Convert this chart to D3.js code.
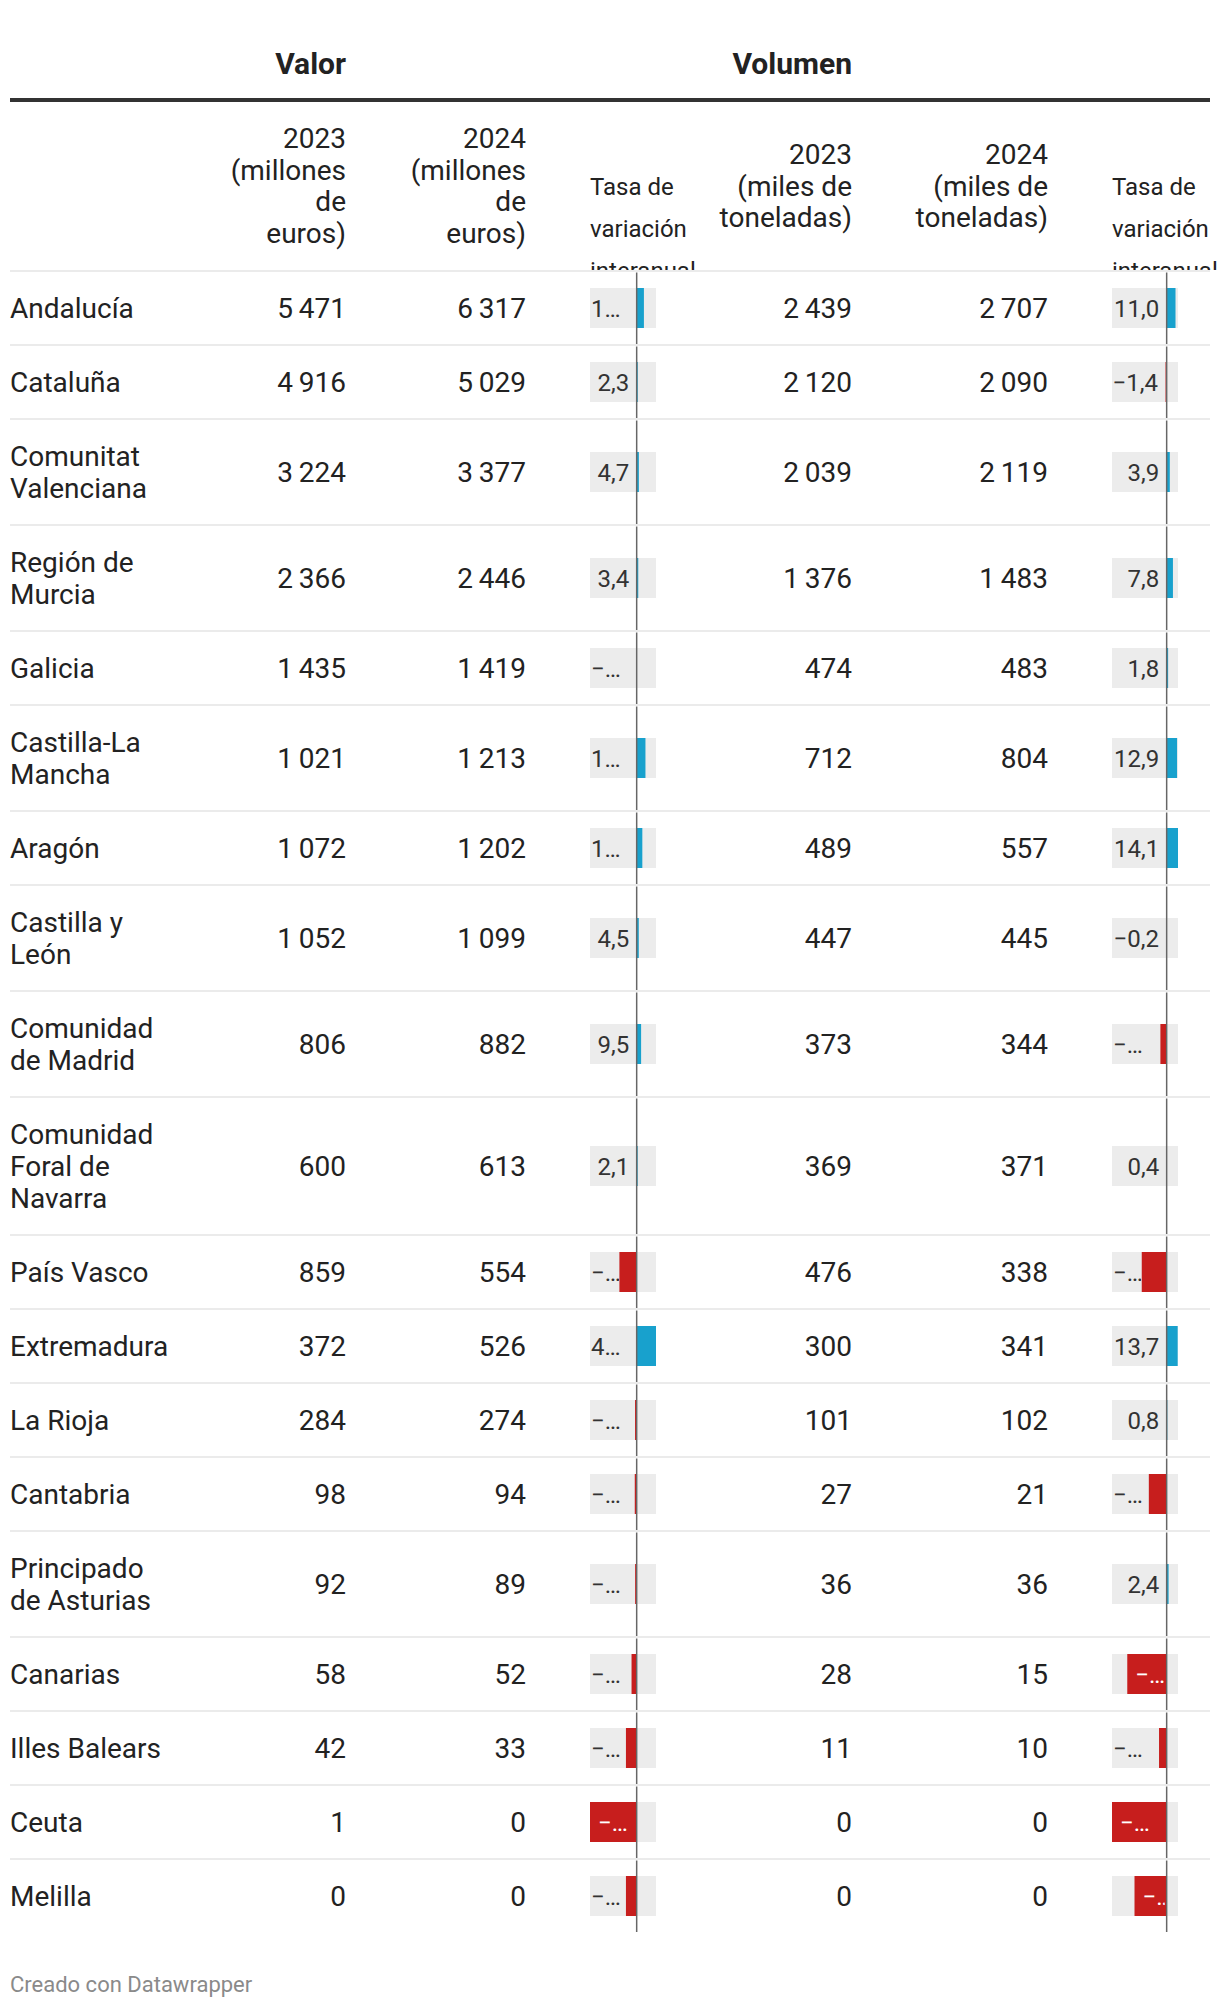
<!DOCTYPE html>
<html>
<head>
<meta charset="utf-8">
<script src="https://cdn.jsdelivr.net/npm/d3@7"></script>
<style>
  body { margin: 0; background: #fff; }
  svg text { font-family: Roboto, "Noto Sans", sans-serif; }
</style>
</head>
<body>
<script>
// ---------- DATA ----------
const regions = ["Andalucía", "Cataluña", "Comunitat Valenciana", "Región de Murcia", "Galicia",
  "Castilla-La Mancha", "Aragón", "Castilla y León", "Comunidad de Madrid",
  "Comunidad Foral de Navarra", "País Vasco", "Extremadura", "La Rioja", "Cantabria",
  "Principado de Asturias", "Canarias", "Illes Balears", "Ceuta", "Melilla"];
const valor2023 = [5471, 4916, 3224, 2366, 1435, 1021, 1072, 1052, 806, 600, 859, 372, 284, 98, 92, 58, 42, 1, 0];
const valor2024 = [6317, 5029, 3377, 2446, 1419, 1213, 1202, 1099, 882, 613, 554, 526, 274, 94, 89, 52, 33, 0, 0];
const valorTasa = [15.5, 2.3, 4.7, 3.4, -1.1, 18.8, 12.1, 4.5, 9.5, 2.1, -37, 41.4, -3.5, -4.1, -3.3, -11, -23, -100, -23];
const volumen2023 = [2439, 2120, 2039, 1376, 474, 712, 489, 447, 373, 369, 476, 300, 101, 27, 36, 28, 11, 0, 0];
const volumen2024 = [2707, 2090, 2119, 1483, 483, 804, 557, 445, 344, 371, 338, 341, 102, 21, 36, 15, 10, 0, 0];
const volumenTasa = [11.0, -1.4, 3.9, 7.8, 1.8, 12.9, 14.1, -0.2, -7.8, 0.4, -31, 13.7, 0.8, -22.2, 2.4, -49, -9.5, -68, -40];

const groupTitles = ["Valor", "Volumen"];
const colHeaders = [
  ["2023", "(millones", "de", "euros)"],
  ["2024", "(millones", "de", "euros)"],
  ["2023", "(miles de", "toneladas)"],
  ["2024", "(miles de", "toneladas)"]
];
const rateHeader = ["Tasa de", "variación", "interanual"];
const footerText = "Creado con Datawrapper";

// ---------- SETUP ----------
const W = 1220, H = 2008;
const svg = d3.select("body").append("svg").attr("width", W).attr("height", H);
const defs = svg.append("defs");
const locale = d3.formatLocale({decimal: ",", thousands: "\u2009", grouping: [3], currency: ["", "€"], minus: "\u2212"});
const fmtInt = locale.format(",d");
const fmtRate = locale.format(".1f");

const textColor = "#222";
const blue = "#18a1cd", red = "#c71e1d", barBg = "#ececec";

// column right edges (number columns) and bar column extents
const colRight = [346, 526, 852, 1048];
const xVal = d3.scaleLinear().domain([d3.min(valorTasa), d3.max(valorTasa)]).range([590, 656]);
const xVol = d3.scaleLinear().domain([d3.min(volumenTasa), d3.max(volumenTasa)]).range([1112, 1178]);

// ---------- HEADER ----------
svg.append("text").attr("x", 346).attr("y", 74).attr("text-anchor", "end")
  .attr("font-size", 30).attr("font-weight", 700).attr("fill", textColor).text(groupTitles[0]);
svg.append("text").attr("x", 852).attr("y", 74).attr("text-anchor", "end")
  .attr("font-size", 30).attr("font-weight", 700).attr("fill", textColor).text(groupTitles[1]);
svg.append("rect").attr("x", 10).attr("y", 98).attr("width", 1200).attr("height", 4).attr("fill", "#333");

colHeaders.forEach((lines, i) => {
  const n = lines.length;
  const y0 = 196 - (n - 1) * 16;
  const t = svg.append("text").attr("text-anchor", "end").attr("font-size", 28).attr("fill", textColor);
  lines.forEach((l, j) => t.append("tspan").attr("x", colRight[i]).attr("y", y0 + j * 31.7).text(l));
});

defs.append("clipPath").attr("id", "hdrclip").append("rect")
  .attr("x", 0).attr("y", 0).attr("width", W).attr("height", 270);
[xVal, xVol].forEach(sc => {
  const t = svg.append("text").attr("clip-path", "url(#hdrclip)").attr("font-size", 24).attr("fill", textColor);
  rateHeader.forEach((l, j) => t.append("tspan").attr("x", sc.range()[0]).attr("y", 195 + j * 42).text(l));
});

// ---------- ROWS ----------
const measure = svg.append("text").attr("font-size", 28).attr("visibility", "hidden");
function wrap(str, maxW) {
  const words = str.split(" ");
  const lines = [];
  let cur = words[0];
  for (let i = 1; i < words.length; i++) {
    const test = cur + " " + words[i];
    measure.text(test);
    if (measure.node().getComputedTextLength() > maxW) { lines.push(cur); cur = words[i]; }
    else cur = test;
  }
  lines.push(cur);
  return lines;
}
const regionLines = regions.map(r => wrap(r, 168));
measure.remove();

const rows = [];
let yCur = 271;
regions.forEach((r, i) => {
  const h = 74 + 32 * (regionLines[i].length - 1);
  rows.push({i, top: yCur, h, c: yCur + h / 2});
  yCur += h;
});

const body = svg.append("g");
let clipN = 0;

function drawRate(g, row, v, sc) {
  const [x0, x1] = sc.range();
  const zero = sc(0);
  const c = row.c;
  g.append("rect").attr("x", x0).attr("y", c - 20).attr("width", x1 - x0).attr("height", 40).attr("fill", barBg);
  const bx = Math.min(sc(v), zero), bw = Math.abs(sc(v) - zero);
  g.append("rect").attr("x", bx).attr("y", c - 20).attr("width", bw).attr("height", 40).attr("fill", v >= 0 ? blue : red);
  g.append("line").attr("x1", zero).attr("x2", zero).attr("y1", row.top + 1.5).attr("y2", row.top + row.h - 1)
    .attr("stroke", "#666").attr("stroke-width", 1.5);

  const txt = fmtRate(v);
  let inside = false, xs, xe, clipR, color = "#333";
  if (v < 0 && bw > (bx - x0)) {
    inside = true; xs = bx + 8; xe = zero - 8; clipR = zero - 2; color = "#fff";
  } else {
    xs = x0 + 1; xe = (v < 0 ? bx : zero) - 7.5; clipR = (v < 0 ? bx - 0.5 : zero - 1);
  }
  const id = "lc" + (clipN++);
  defs.append("clipPath").attr("id", id).append("rect")
    .attr("x", xs - 3).attr("y", c - 20).attr("width", Math.max(0, clipR - xs + 3)).attr("height", 40);
  const t = g.append("text").attr("font-size", 24).attr("fill", color).attr("y", c + 8.5)
    .attr("clip-path", `url(#${id})`).text(txt);
  const avail = xe - xs;
  if (!inside && t.node().getComputedTextLength() <= avail + 1) {
    t.attr("x", xe).attr("text-anchor", "end");
    return;
  }
  let k = txt.length - 1, found = false;
  for (; k >= 1; k--) {
    t.text(txt.slice(0, k) + "…");
    if (t.node().getComputedTextLength() <= avail) { found = true; break; }
  }
  if (!found) t.text(txt.slice(0, 1) + "…");
  t.attr("x", xs).attr("text-anchor", "start");
}

rows.forEach(row => {
  const i = row.i;
  const g = body.append("g");
  g.append("line").attr("x1", 10).attr("x2", 1210).attr("y1", row.top).attr("y2", row.top)
    .attr("stroke", "#ebebeb").attr("stroke-width", 2);
  const lines = regionLines[i];
  const n = lines.length;
  const t = g.append("text").attr("font-size", 28).attr("fill", textColor);
  lines.forEach((l, j) => t.append("tspan").attr("x", 10).attr("y", row.c + 10 - (n - 1) * 16 + j * 32).text(l));

  [valor2023[i], valor2024[i], volumen2023[i], volumen2024[i]].forEach((v, k) => {
    g.append("text").attr("x", colRight[k]).attr("y", row.c + 10).attr("text-anchor", "end")
      .attr("font-size", 28).attr("fill", textColor).text(fmtInt(v));
  });
  drawRate(g, row, valorTasa[i], xVal);
  drawRate(g, row, volumenTasa[i], xVol);
});

// ---------- FOOTER ----------
svg.append("text").attr("x", 10).attr("y", 1992).attr("font-size", 22).attr("fill", "#8a8a8a").text(footerText);
</script>
</body>
</html>
